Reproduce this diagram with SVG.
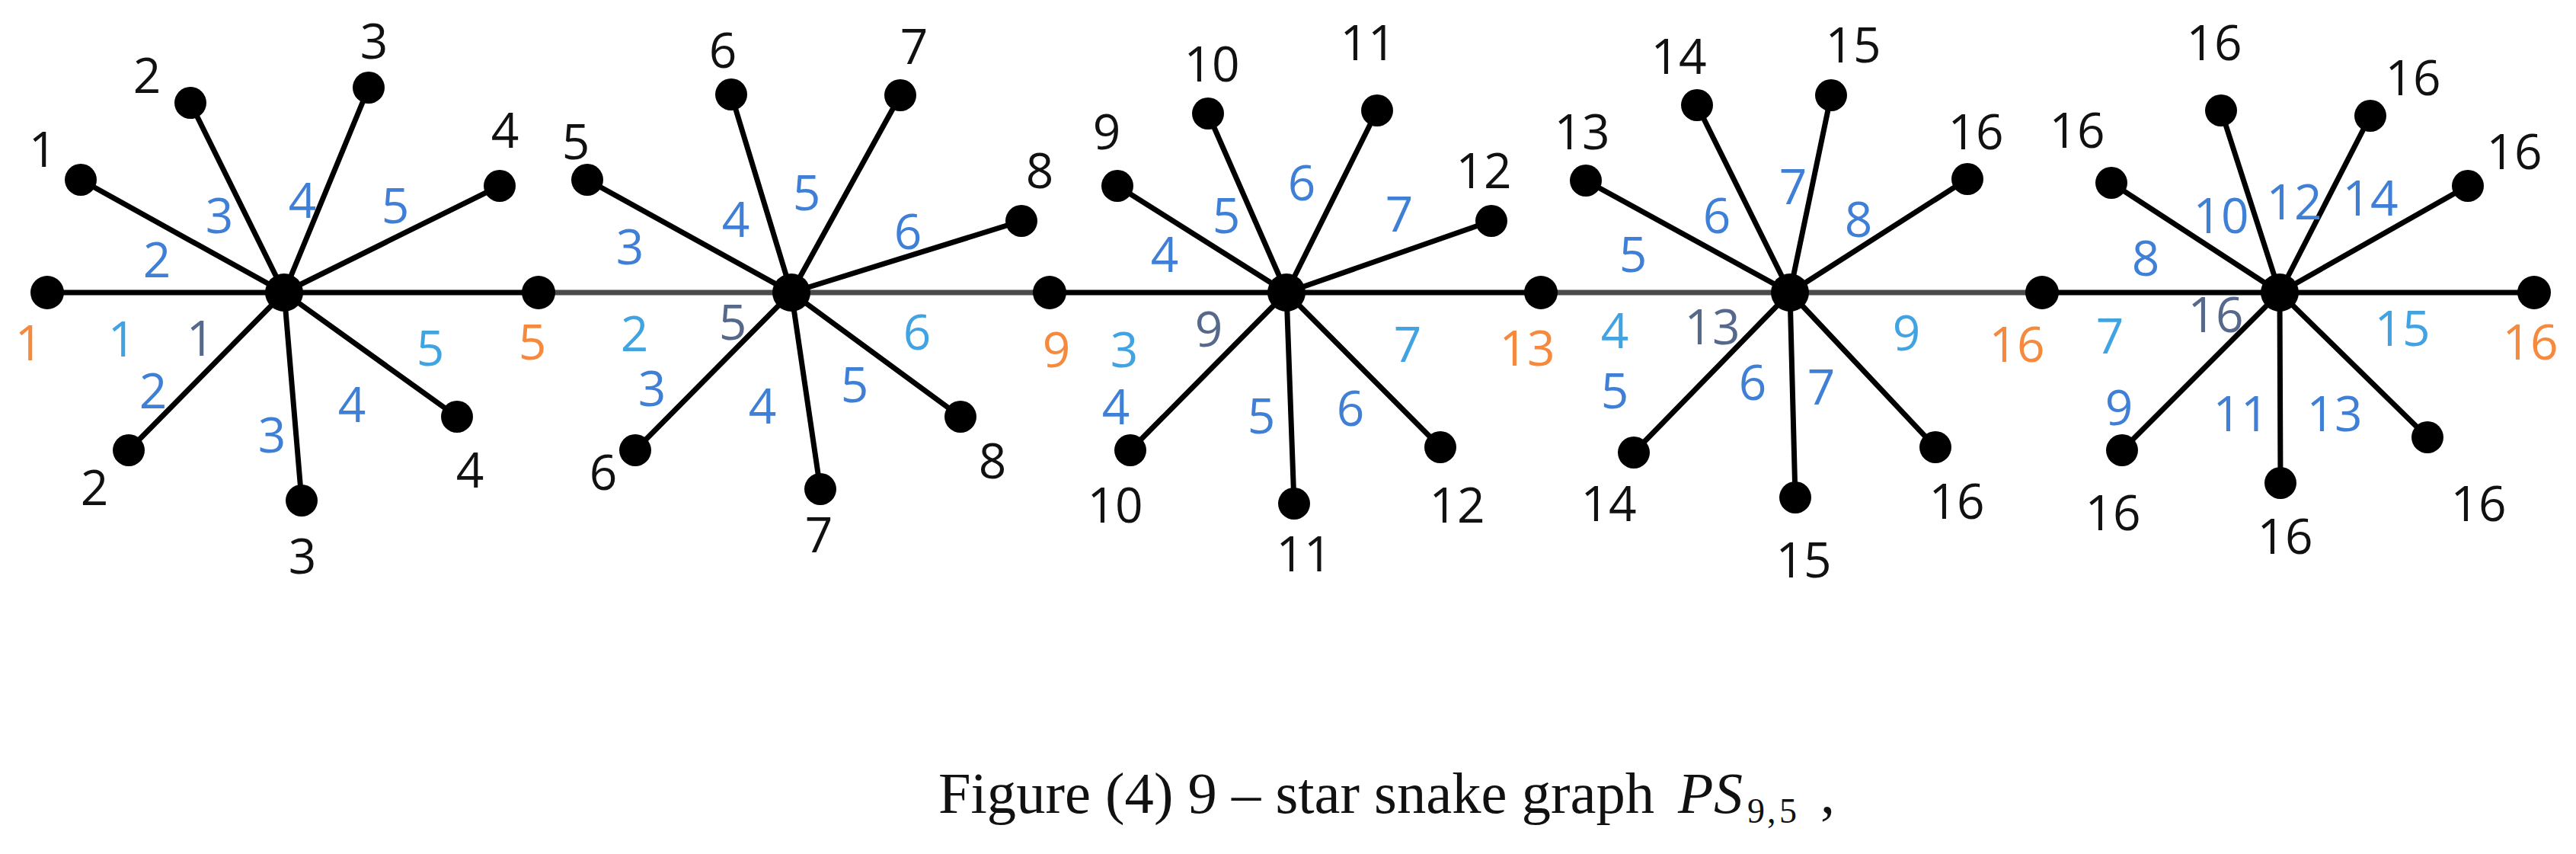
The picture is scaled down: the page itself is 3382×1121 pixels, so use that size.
<svg xmlns="http://www.w3.org/2000/svg" width="3382" height="1121" viewBox="0 0 3382 1121">
<style>
.e{stroke:#000;stroke-width:7;stroke-linecap:round}
.g{stroke:#4a4a4a;stroke-width:7}
.n{fill:#000}
text{font-family:"Open Sans","Liberation Sans",sans-serif;font-size:64px;text-anchor:middle}
.k{fill:#111}
.b{fill:#3f7fd6}
.l{fill:#42a3e2}
.s{fill:#56698a}
.o{fill:#f5893e}
.cap{font-family:"Liberation Serif","Times New Roman",serif;font-size:76px;text-anchor:start;fill:#111}
.sub{font-family:"Liberation Serif","Times New Roman",serif;font-size:46px;text-anchor:start;fill:#111}
</style>
<rect width="3382" height="1121" fill="#fff"/>
<g id="connectors">
<line class="e" x1="62" y1="384" x2="373" y2="384"/>
<line class="e" x1="373" y1="384" x2="707" y2="384"/>
<line class="e" x1="373" y1="384" x2="106" y2="236"/>
<line class="e" x1="373" y1="384" x2="250" y2="135"/>
<line class="e" x1="373" y1="384" x2="484" y2="115"/>
<line class="e" x1="373" y1="384" x2="656" y2="244"/>
<line class="e" x1="373" y1="384" x2="169" y2="591"/>
<line class="e" x1="373" y1="384" x2="396" y2="657"/>
<line class="e" x1="373" y1="384" x2="600" y2="547"/>
<line class="g" x1="707" y1="384" x2="1039" y2="384"/>
<line class="g" x1="1039" y1="384" x2="1378" y2="384"/>
<line class="e" x1="1039" y1="384" x2="771" y2="236"/>
<line class="e" x1="1039" y1="384" x2="960" y2="124"/>
<line class="e" x1="1039" y1="384" x2="1182" y2="125"/>
<line class="e" x1="1039" y1="384" x2="1341" y2="290"/>
<line class="e" x1="1039" y1="384" x2="834" y2="591"/>
<line class="e" x1="1039" y1="384" x2="1077" y2="642"/>
<line class="e" x1="1039" y1="384" x2="1261" y2="547"/>
<line class="e" x1="1378" y1="384" x2="1689" y2="384"/>
<line class="e" x1="1689" y1="384" x2="2023" y2="384"/>
<line class="e" x1="1689" y1="384" x2="1467" y2="244"/>
<line class="e" x1="1689" y1="384" x2="1586" y2="149"/>
<line class="e" x1="1689" y1="384" x2="1808" y2="145"/>
<line class="e" x1="1689" y1="384" x2="1958" y2="290"/>
<line class="e" x1="1689" y1="384" x2="1484" y2="591"/>
<line class="e" x1="1689" y1="384" x2="1699" y2="661"/>
<line class="e" x1="1689" y1="384" x2="1891" y2="587"/>
<line class="g" x1="2023" y1="384" x2="2350" y2="384"/>
<line class="g" x1="2350" y1="384" x2="2681" y2="384"/>
<line class="e" x1="2350" y1="384" x2="2082" y2="237"/>
<line class="e" x1="2350" y1="384" x2="2228" y2="138"/>
<line class="e" x1="2350" y1="384" x2="2404" y2="125"/>
<line class="e" x1="2350" y1="384" x2="2583" y2="235"/>
<line class="e" x1="2350" y1="384" x2="2145" y2="594"/>
<line class="e" x1="2350" y1="384" x2="2357" y2="653"/>
<line class="e" x1="2350" y1="384" x2="2541" y2="587"/>
<line class="e" x1="2681" y1="384" x2="2993" y2="384"/>
<line class="e" x1="2993" y1="384" x2="3327" y2="384"/>
<line class="e" x1="2993" y1="384" x2="2772" y2="240"/>
<line class="e" x1="2993" y1="384" x2="2916" y2="145"/>
<line class="e" x1="2993" y1="384" x2="3112" y2="152"/>
<line class="e" x1="2993" y1="384" x2="3240" y2="244"/>
<line class="e" x1="2993" y1="384" x2="2786" y2="591"/>
<line class="e" x1="2993" y1="384" x2="2994" y2="634"/>
<line class="e" x1="2993" y1="384" x2="3187" y2="574"/>
</g>
<g id="edge-labels">
<text class="b" x="206" y="364">2</text><text class="b" x="288" y="306">3</text><text class="b" x="397" y="286">4</text><text class="b" x="519" y="293">5</text>
<text class="b" x="201" y="536">2</text><text class="b" x="357" y="594">3</text><text class="b" x="462" y="554">4</text>
<text class="l" x="160" y="468">1</text><text class="s" x="263" y="467">1</text><text class="l" x="565" y="480">5</text>
<text class="b" x="827" y="347">3</text><text class="b" x="966" y="311">4</text><text class="b" x="1059" y="276">5</text><text class="b" x="1192" y="327">6</text>
<text class="b" x="856" y="533">3</text><text class="b" x="1001" y="556">4</text><text class="b" x="1122" y="528">5</text>
<text class="l" x="833" y="461">2</text><text class="s" x="962" y="446">5</text><text class="l" x="1204" y="459">6</text>
<text class="b" x="1529" y="357">4</text><text class="b" x="1610" y="306">5</text><text class="b" x="1709" y="263">6</text><text class="b" x="1837" y="304">7</text>
<text class="b" x="1465" y="557">4</text><text class="b" x="1656" y="569">5</text><text class="b" x="1773" y="559">6</text>
<text class="l" x="1476" y="482">3</text><text class="s" x="1587" y="455">9</text><text class="l" x="1848" y="475">7</text>
<text class="b" x="2144" y="357">5</text><text class="b" x="2254" y="306">6</text><text class="b" x="2354" y="268">7</text><text class="b" x="2440" y="311">8</text>
<text class="b" x="2120" y="536">5</text><text class="b" x="2301" y="525">6</text><text class="b" x="2391" y="531">7</text>
<text class="l" x="2120" y="457">4</text><text class="s" x="2248" y="452">13</text><text class="l" x="2503" y="460">9</text>
<text class="b" x="2817" y="362">8</text><text class="b" x="2916" y="306">10</text><text class="b" x="3012" y="288">12</text><text class="b" x="3112" y="283">14</text>
<text class="b" x="2782" y="558">9</text><text class="b" x="2942" y="566">11</text><text class="b" x="3065" y="566">13</text>
<text class="l" x="2770" y="464">7</text><text class="s" x="2909" y="436">16</text><text class="l" x="3154" y="454">15</text>
</g>
<g id="path-node-1"><circle class="n" cx="62" cy="384" r="22"/><text class="o" x="38" y="473">1</text></g>
<g id="star-1"><circle class="n" cx="373" cy="384" r="25"/></g>
<g id="leaf-1-1"><circle class="n" cx="106" cy="236" r="21"/><text class="k" x="56" y="219">1</text></g>
<g id="leaf-1-2"><circle class="n" cx="250" cy="135" r="21"/><text class="k" x="193" y="122">2</text></g>
<g id="leaf-1-3"><circle class="n" cx="484" cy="115" r="21"/><text class="k" x="491" y="77">3</text></g>
<g id="leaf-1-4"><circle class="n" cx="656" cy="244" r="21"/><text class="k" x="663" y="194">4</text></g>
<g id="leaf-1-5"><circle class="n" cx="169" cy="591" r="21"/><text class="k" x="124" y="663">2</text></g>
<g id="leaf-1-6"><circle class="n" cx="396" cy="657" r="21"/><text class="k" x="397" y="753">3</text></g>
<g id="leaf-1-7"><circle class="n" cx="600" cy="547" r="21"/><text class="k" x="617" y="640">4</text></g>
<g id="path-node-2"><circle class="n" cx="707" cy="384" r="22"/><text class="o" x="699" y="472">5</text></g>
<g id="star-2"><circle class="n" cx="1039" cy="384" r="25"/></g>
<g id="leaf-2-1"><circle class="n" cx="771" cy="236" r="21"/><text class="k" x="756" y="209">5</text></g>
<g id="leaf-2-2"><circle class="n" cx="960" cy="124" r="21"/><text class="k" x="949" y="89">6</text></g>
<g id="leaf-2-3"><circle class="n" cx="1182" cy="125" r="21"/><text class="k" x="1200" y="84">7</text></g>
<g id="leaf-2-4"><circle class="n" cx="1341" cy="290" r="21"/><text class="k" x="1365" y="247">8</text></g>
<g id="leaf-2-5"><circle class="n" cx="834" cy="591" r="21"/><text class="k" x="792" y="643">6</text></g>
<g id="leaf-2-6"><circle class="n" cx="1077" cy="642" r="21"/><text class="k" x="1075" y="725">7</text></g>
<g id="leaf-2-7"><circle class="n" cx="1261" cy="547" r="21"/><text class="k" x="1303" y="628">8</text></g>
<g id="path-node-3"><circle class="n" cx="1378" cy="384" r="22"/><text class="o" x="1387" y="482">9</text></g>
<g id="star-3"><circle class="n" cx="1689" cy="384" r="25"/></g>
<g id="leaf-3-1"><circle class="n" cx="1467" cy="244" r="21"/><text class="k" x="1453" y="196">9</text></g>
<g id="leaf-3-2"><circle class="n" cx="1586" cy="149" r="21"/><text class="k" x="1591" y="107">10</text></g>
<g id="leaf-3-3"><circle class="n" cx="1808" cy="145" r="21"/><text class="k" x="1796" y="79">11</text></g>
<g id="leaf-3-4"><circle class="n" cx="1958" cy="290" r="21"/><text class="k" x="1948" y="247">12</text></g>
<g id="leaf-3-5"><circle class="n" cx="1484" cy="591" r="21"/><text class="k" x="1464" y="686">10</text></g>
<g id="leaf-3-6"><circle class="n" cx="1699" cy="661" r="21"/><text class="k" x="1712" y="750">11</text></g>
<g id="leaf-3-7"><circle class="n" cx="1891" cy="587" r="21"/><text class="k" x="1913" y="686">12</text></g>
<g id="path-node-4"><circle class="n" cx="2023" cy="384" r="22"/><text class="o" x="2005" y="480">13</text></g>
<g id="star-4"><circle class="n" cx="2350" cy="384" r="25"/></g>
<g id="leaf-4-1"><circle class="n" cx="2082" cy="237" r="21"/><text class="k" x="2077" y="196">13</text></g>
<g id="leaf-4-2"><circle class="n" cx="2228" cy="138" r="21"/><text class="k" x="2204" y="97">14</text></g>
<g id="leaf-4-3"><circle class="n" cx="2404" cy="125" r="21"/><text class="k" x="2433" y="82">15</text></g>
<g id="leaf-4-4"><circle class="n" cx="2583" cy="235" r="21"/><text class="k" x="2594" y="196">16</text></g>
<g id="leaf-4-5"><circle class="n" cx="2145" cy="594" r="21"/><text class="k" x="2112" y="684">14</text></g>
<g id="leaf-4-6"><circle class="n" cx="2357" cy="653" r="21"/><text class="k" x="2368" y="758">15</text></g>
<g id="leaf-4-7"><circle class="n" cx="2541" cy="587" r="21"/><text class="k" x="2569" y="681">16</text></g>
<g id="path-node-5"><circle class="n" cx="2681" cy="384" r="22"/><text class="o" x="2648" y="475">16</text></g>
<g id="star-5"><circle class="n" cx="2993" cy="384" r="25"/></g>
<g id="leaf-5-1"><circle class="n" cx="2772" cy="240" r="21"/><text class="k" x="2727" y="194">16</text></g>
<g id="leaf-5-2"><circle class="n" cx="2916" cy="145" r="21"/><text class="k" x="2907" y="79">16</text></g>
<g id="leaf-5-3"><circle class="n" cx="3112" cy="152" r="21"/><text class="k" x="3168" y="125">16</text></g>
<g id="leaf-5-4"><circle class="n" cx="3240" cy="244" r="21"/><text class="k" x="3301" y="222">16</text></g>
<g id="leaf-5-5"><circle class="n" cx="2786" cy="591" r="21"/><text class="k" x="2774" y="696">16</text></g>
<g id="leaf-5-6"><circle class="n" cx="2994" cy="634" r="21"/><text class="k" x="3000" y="727">16</text></g>
<g id="leaf-5-7"><circle class="n" cx="3187" cy="574" r="21"/><text class="k" x="3254" y="684">16</text></g>
<g id="path-node-6"><circle class="n" cx="3327" cy="384" r="22"/><text class="o" x="3322" y="472">16</text></g>
<g id="caption">
<text class="cap" x="1232" y="1067" textLength="940" lengthAdjust="spacingAndGlyphs">Figure (4) 9 – star snake graph</text>
<text class="cap" x="2203" y="1067" font-style="italic">P</text>
<text class="cap" x="2250" y="1067" font-style="italic">S</text>
<text class="sub" x="2294" y="1080">9</text>
<text class="sub" x="2320" y="1080">,</text>
<text class="sub" x="2336" y="1080">5</text>
<text class="cap" x="2390" y="1067">,</text>
</g>
</svg>
